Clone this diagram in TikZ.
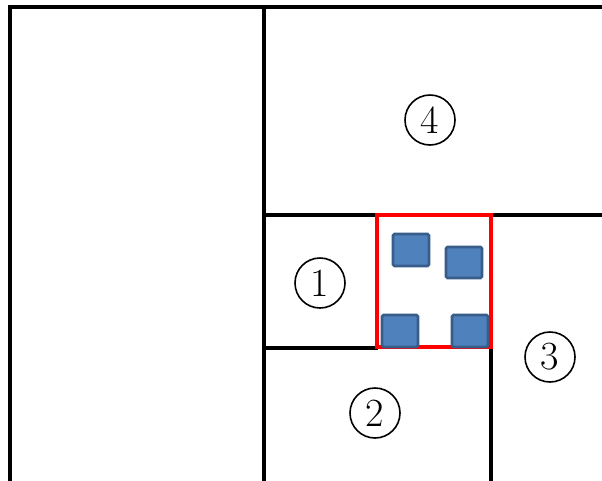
\documentclass[tikz,border=0pt]{standalone}
\usepackage{tikz}
\definecolor{blockfill}{HTML}{4F81BD}
\definecolor{blockedge}{HTML}{385D8A}
\tikzset{
  wall/.style={line width=3.4pt, black},
  redframe/.style={line width=3.4pt, draw={rgb,255:red,255;green,0;blue,0}},
  block/.style={fill=blockfill, draw=blockedge, line width=2.6pt, rounded corners=1.5pt},
  circnum/.style={circle, draw, line width=1.6pt, minimum size=50pt, inner sep=0pt, font=\fontsize{40}{40}\selectfont}
}
\begin{document}
\begin{tikzpicture}[x=1pt,y=-1pt]
\useasboundingbox[fill=white] (0,0) rectangle (602,480);
% outer frame
\draw[wall] (10,481) -- (10,7) -- (603,7);
\draw[wall] (264,7) -- (264,481);
\draw[wall] (264,215) -- (378,215);
\draw[wall] (490,215) -- (603,215);
\draw[wall] (264,348) -- (378,348);
\draw[wall] (491,348) -- (491,481);
% red box
\draw[redframe] (377,215) rectangle (491,347);
% blocks
\draw[block] (393,234) rectangle (429,266);
\draw[block] (446,247) rectangle (482,278);
\draw[block] (382,315) rectangle (418,347);
\draw[block] (452,315) rectangle (488,347);
% labels
\node[circnum] (n4) at (430,120) {4};
\node[circnum] (n1) at (320,283) {1};
\node[circnum] (n3) at (550,357) {3};
\node[circnum] (n2) at (375,413) {2};
\end{tikzpicture}
\end{document}
